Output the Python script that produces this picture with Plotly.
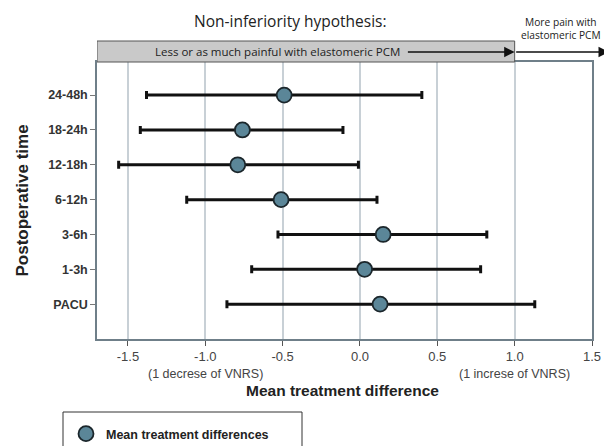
import plotly.graph_objects as go

categories = ["PACU", "1-3h", "3-6h", "6-12h", "12-18h", "18-24h", "24-48h"]
mean_diff = [0.13, 0.03, 0.15, -0.51, -0.79, -0.76, -0.49]
ci_lower = [-0.86, -0.70, -0.53, -1.12, -1.56, -1.42, -1.38]
ci_upper = [1.13, 0.78, 0.82, 0.11, -0.01, -0.11, 0.40]
x_ticks = [-1.5, -1.0, -0.5, 0.0, 0.5, 1.0, 1.5]
x_tick_labels = ["-1.5", "-1.0", "-0.5", "0.0", "0.5", "1.0", "1.5"]

err_plus = [u - m for u, m in zip(ci_upper, mean_diff)]
err_minus = [m - l for m, l in zip(mean_diff, ci_lower)]
ypos = list(range(len(categories)))

FONT = "Liberation Sans, Arial, sans-serif"
SEGOE = "Open Sans, Noto Sans, sans-serif"

# page has an 8px body margin: figure is drawn at (8, 8)
OFF = 8
PL, PR, PT, PB = 97, 592, 62, 339  # plot area in page pixels
PW, PH = PR - PL, PB - PT


def px(x):
    return (x - PL) / PW


def py(y):
    return (PB - y) / PH


fig = go.Figure()
fig.add_trace(go.Scatter(
    x=mean_diff, y=ypos, mode="markers",
    name="<b>Mean treatment differences</b>",
    marker=dict(size=15, color="#5b8698", line=dict(color="#1b262b", width=1.8)),
    error_x=dict(type="data", symmetric=False, array=err_plus, arrayminus=err_minus,
                 color="#111111", thickness=3, width=4),
    showlegend=True,
))

shapes = [
    dict(type="rect", xref="x", yref="paper", x0=-1.7, x1=1.0, y0=1.0, y1=py(41),
         fillcolor="#c9c9c9", line=dict(color="#555555", width=1), layer="above"),
    dict(type="rect", xref="paper", yref="paper",
         x0=px(63), x1=px(302), y0=py(452), y1=py(412),
         line=dict(color="#333333", width=1), fillcolor="rgba(0,0,0,0)"),
]

A = dict(xanchor="center", yanchor="middle", showarrow=False)
annotations = [
    dict(text="Non-inferiority hypothesis:", xref="paper", yref="paper",
         x=px(290), y=py(21), font=dict(family=SEGOE, size=15.5, color="#222222"), **A),
    dict(text="Less or as much painful with elastomeric PCM", xref="paper", yref="paper",
         x=px(277), y=py(52), font=dict(family=SEGOE, size=11.5, color="#222222"), **A),
    dict(text="More pain with<br>elastomeric PCM", xref="paper", yref="paper",
         x=px(561), y=py(28), font=dict(family=SEGOE, size=10.2, color="#222222"), **A),
    dict(text="(1 decrese of VNRS)", xref="x", yref="paper", x=-1.0, y=py(374),
         font=dict(family=FONT, size=12.5, color="#444444"), **A),
    dict(text="(1 increse of VNRS)", xref="x", yref="paper", x=1.0, y=py(374),
         font=dict(family=FONT, size=12.5, color="#444444"), **A),
    dict(text="<b>Mean treatment difference</b>", xref="paper", yref="paper",
         x=px(342), y=py(390), font=dict(family=FONT, size=15.5, color="#222222"), **A),
    dict(text="<b>Postoperative time</b>", xref="paper", yref="paper",
         x=px(22), y=0.5, textangle=-90,
         font=dict(family=FONT, size=17, color="#222222"), **A),
    # arrows
    dict(text="", xref="x", yref="paper", axref="x", ayref="pixel",
         x=1.0, y=py(52), ax=0.30, ay=0, showarrow=True,
         arrowhead=2, arrowsize=1.4, arrowwidth=1.5, arrowcolor="#111111"),
    dict(text="", xref="x", yref="paper", axref="x", ayref="pixel",
         x=1.61, y=py(52), ax=1.0, ay=0, showarrow=True,
         arrowhead=2, arrowsize=1.4, arrowwidth=1.5, arrowcolor="#111111"),
]

fig.update_layout(
    width=612 - OFF, height=446 - OFF,
    margin=dict(l=PL - OFF, r=612 - PR, t=PT - OFF, b=446 - PB, autoexpand=False),
    paper_bgcolor="white", plot_bgcolor="white",
    shapes=shapes, annotations=annotations,
    showlegend=True,
    legend=dict(x=px(66), y=py(419), xanchor="left", yanchor="top",
                bgcolor="rgba(0,0,0,0)", borderwidth=0,
                font=dict(family=FONT, size=12.5, color="#222222")),
    xaxis=dict(range=[-1.7, 1.5], tickvals=x_ticks, ticktext=x_tick_labels,
               showgrid=True, gridcolor="#c8d0d6", gridwidth=2, zeroline=False,
               showline=True, linecolor="#6f7f89", linewidth=1.5, mirror=True,
               ticks="outside", ticklen=5, tickcolor="#555555",
               tickfont=dict(family=FONT, size=13, color="#444444")),
    yaxis=dict(range=[-1, 6.95], tickvals=ypos,
               ticktext=["<b>" + c + "</b>" for c in categories],
               showgrid=False, zeroline=False,
               showline=True, linecolor="#6f7f89", linewidth=1.5, mirror=True,
               ticks="outside", ticklen=5, tickcolor="#777777",
               tickfont=dict(family=FONT, size=12.5, color="#333333")),
)

fig.write_html("out.html")
